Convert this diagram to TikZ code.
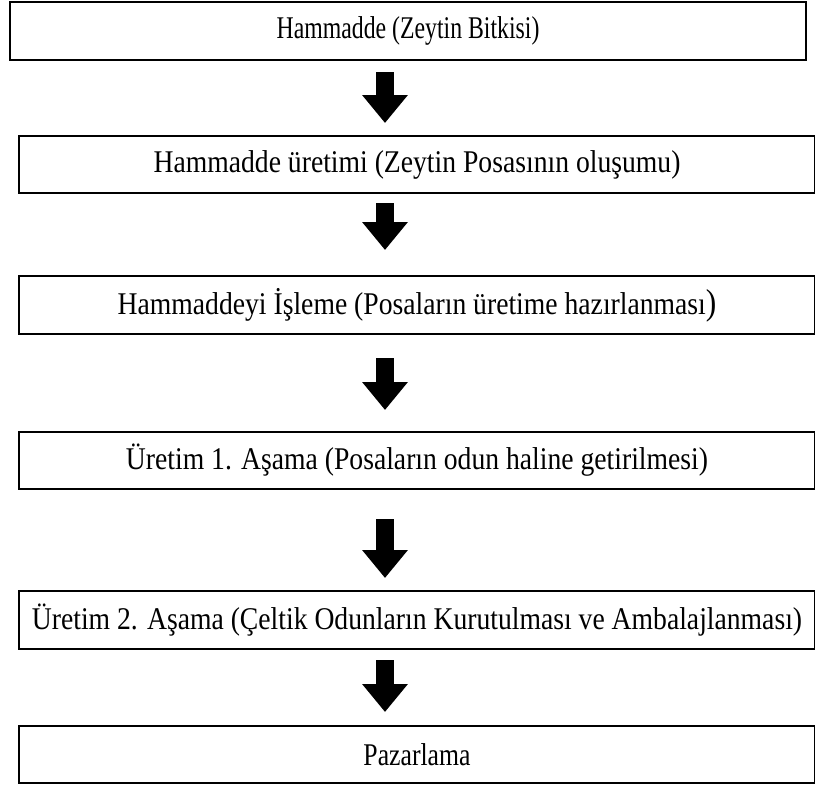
\documentclass[tikz,border=0pt]{standalone}
\usepackage{fontspec}
\usepackage{graphicx}
\setmainfont[FakeStretch=0.875]{Liberation Serif}
\usetikzlibrary{arrows.meta}
\tikzset{
  stage/.style={draw=black, line width=2.6pt, minimum width=796pt, inner sep=0pt, outer sep=0pt,
    font=\fontsize{31.6pt}{34pt}\selectfont, anchor=center},
  blockarrow/.style={line width=18pt, -{Triangle[width=44pt,length=28pt]}}
}
\begin{document}
\begin{tikzpicture}[x=1pt,y=-1pt]
\useasboundingbox (0,0) rectangle (815,785);
\node[stage, minimum height=58pt] (b1) at (408,31) {\scalebox{0.86}[1]{Hammadde (Zeytin Bitkisi)}};
\node[stage, minimum height=57pt] (b2) at (417,164.5) {Hammadde üretimi (Zeytin Posasının oluşumu)};
\node[stage, minimum height=58pt] (b3) at (417,305) {Hammaddeyi İşleme (Posaların üretime hazırlanması{\fontsize{36pt}{36pt}\selectfont )}};
\node[stage, minimum height=57pt] (b4) at (417,460.5) {Üretim 1. Aşama (Posaların odun haline getirilmesi)};
\node[stage, minimum height=58pt] (b5) at (417,620) {Üretim 2. Aşama (Çeltik Odunların Kurutulması ve Ambalajlanması)};
\node[stage, minimum height=57pt] (b6) at (417,754.5) {\scalebox{0.93}[1]{Pazarlama}};
\coordinate (ax) at (385,0);
\draw[blockarrow, shorten <=12pt, shorten >=13pt] (b1.south -| ax) -- (b2.north -| ax);
\draw[blockarrow, shorten <=10pt, shorten >=26pt] (b2.south -| ax) -- (b3.north -| ax);
\draw[blockarrow, shorten <=24pt, shorten >=22pt] (b3.south -| ax) -- (b4.north -| ax);
\draw[blockarrow, shorten <=30pt, shorten >=13pt] (b4.south -| ax) -- (b5.north -| ax);
\draw[blockarrow, shorten <=11pt, shorten >=14pt] (b5.south -| ax) -- (b6.north -| ax);
\end{tikzpicture}
\end{document}
